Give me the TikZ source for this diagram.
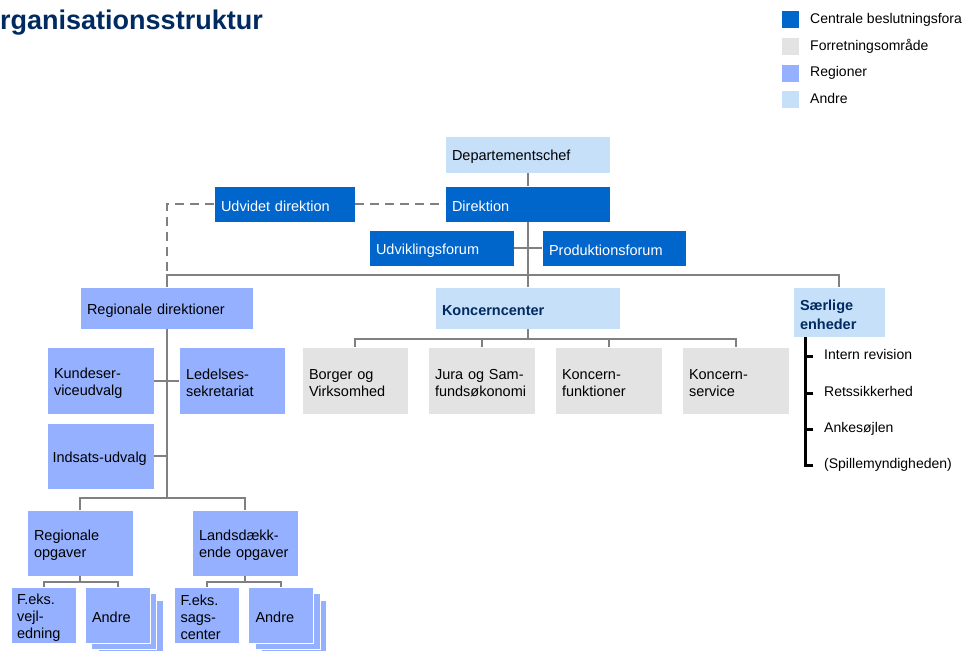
\documentclass[tikz,border=0pt]{standalone}
\usepackage{fontspec}
\setmainfont{Liberation Sans}
\usetikzlibrary{positioning}
\definecolor{centralblue}{RGB}{0,102,204}
\definecolor{forrgray}{RGB}{227,227,227}
\definecolor{regionblue}{RGB}{148,176,255}
\definecolor{andreblue}{RGB}{198,224,250}
\definecolor{navy}{RGB}{0,42,96}
\definecolor{conngray}{RGB}{128,128,128}
\tikzset{
  box/.style={rectangle, draw=white, line width=0.8pt, inner xsep=7pt, inner ysep=0pt,
    outer sep=0pt, align=left, font=\fontsize{14.5}{17}\selectfont,
    execute at begin node={\rule{0pt}{15.5pt}}},
  central/.style={box, fill=centralblue, text=white},
  forr/.style={box, fill=forrgray, text=black},
  region/.style={box, fill=regionblue, text=black},
  andre/.style={box, fill=andreblue, text=black},
  stack/.style={region, minimum width=65pt, minimum height=56pt},
  conn/.style={draw=conngray, line width=2pt},
  dashconn/.style={conn, dash pattern=on 9pt off 6pt},
  listline/.style={draw=black, line width=3pt},
  listitem/.style={anchor=west, inner sep=0pt, font=\fontsize{14}{17}\selectfont, text height=10pt, text depth=3pt},
  legsq/.style={rectangle, minimum size=17pt, inner sep=0pt, outer sep=0pt},
  legtext/.style={inner sep=0pt, font=\fontsize{14}{17}\selectfont, text height=10pt, text depth=3pt},
  titletext/.style={inner sep=0pt, text=navy, font=\fontsize{27}{30}\selectfont\bfseries},
}
\begin{document}
\begin{tikzpicture}[x=1pt,y=-1pt]
  \useasboundingbox (0,0) rectangle (968,650);
  % 标题
  \node[titletext, anchor=base west] (title) at (-21,30) {Organisationsstruktur};
  % 图例
  \foreach \i/\c/\txt in {1/centralblue/Centrale beslutningsfora, 2/forrgray/Forretningsområde,
      3/regionblue/Regioner, 4/andreblue/Andre} {
    \pgfmathsetmacro\yy{20+(\i-1)*26.6}
    \node[legsq, fill=\c] (leg\i) at (790.5,\yy) {};
    \node[legtext, right=11pt of leg\i] (legtxt\i) {\txt};
  }
  % 顶层
  \node[andre, text width=151pt, minimum height=37pt] (depchef) at (527.5,154.5) {Departementschef};
  \node[central, text width=151pt, minimum height=36pt] (direktion) at (527.5,204) {Direktion};
  \node[central, text width=127pt, minimum height=36pt] (udvidet) at (284.5,204) {Udvidet direktion};
  \node[central, text width=131pt, minimum height=36pt] (udvforum) at (441.5,248) {Udviklingsforum};
  \node[central, text width=130pt, minimum height=36pt] (prodforum) at (614,248) {Produktionsforum};
  % 第二层
  \node[region, text width=159pt, minimum height=42pt] (regdir) at (166.5,308) {Regionale direktioner};
  \node[andre, text width=171pt, minimum height=42pt, text=navy, font=\fontsize{14.5}{17}\selectfont\bfseries]
    (koncern) at (527.5,308) {Koncerncenter};
  \node[andre, text width=78pt, minimum height=50pt, text=navy, font=\fontsize{14.5}{19}\selectfont\bfseries]
    (saerlige) at (839,312) {Særlige\\enheder};
  % koncerncenter 下面
  \node[forr, text width=92pt, minimum height=67pt] (borger) at (355,380.5) {Borger og\\Virksomhed};
  \node[forr, text width=93pt, minimum height=67pt] (jura) at (481.5,380.5) {Jura og Sam-\\fundsøkonomi};
  \node[forr, text width=93pt, minimum height=67pt] (kfunk) at (608.5,380.5) {Koncern-\\funktioner};
  \node[forr, text width=93pt, minimum height=67pt] (kserv) at (735.5,380.5) {Koncern-\\service};
  % regioner
  \node[region, text width=93pt, minimum height=67pt] (kunde) at (100.5,380.5) {Kundeser-\\viceudvalg};
  \node[region, text width=92pt, minimum height=67pt] (ledelse) at (232,380.5) {Ledelses-\\sekretariat};
  \node[region, text width=96pt, minimum height=66pt, inner xsep=5.5pt] (indsats) at (100.5,456) {Indsats-udvalg};
  \node[region, text width=92pt, minimum height=66pt] (regopg) at (80,543) {Regionale\\opgaver};
  \node[region, text width=92pt, minimum height=66pt] (landopg) at (245,543) {Landsdækk-\\ende opgaver};
  \node[region, text width=53pt, minimum height=56pt, inner xsep=6pt] (vejl) at (43.5,615) {F.eks.\\vejl-\\edning};
  \node[region, text width=53pt, minimum height=56pt, inner xsep=6pt] (sags) at (207,615) {F.eks.\\sags-\\center};
  % Andre 的叠层
  \foreach \dx in {13,6.5} {
    \node[stack] at (117.5+\dx,615+\dx) {};
    \node[stack] at (281+\dx,615+\dx) {};
  }
  \node[region, text width=51pt, minimum height=56pt] (andre1) at (117.5,615) {Andre};
  \node[region, text width=51pt, minimum height=56pt] (andre2) at (281,615) {Andre};
  % 连线
  \coordinate (mainbus) at (527.5,275);
  \coordinate (kbus) at (527.5,339);
  \coordinate (regbus) at (166.5,498);
  \coordinate (rbus) at (80,582);
  \coordinate (lbus) at (245,582);
  \draw[conn] (depchef.south) -- (direktion.north);
  \draw[conn] (direktion.south) -- (mainbus);
  \draw[conn] (udvforum.east) -- (prodforum.west);
  \draw[conn] (regdir.north) |- (mainbus) -| (saerlige.north);
  \draw[conn] (koncern.north) -- (mainbus);
  \draw[dashconn] (udvidet.east) -- (direktion.west);
  \draw[dashconn] (udvidet.west) -| (regdir.north |- mainbus);
  \draw[conn] (koncern.south) -- (kbus);
  \draw[conn] (borger.north) |- (kbus) -| (kserv.north);
  \draw[conn] (jura.north) -- (jura.north |- kbus);
  \draw[conn] (kfunk.north) -- (kfunk.north |- kbus);
  \draw[conn] (regdir.south) -- (regbus);
  \draw[conn] (kunde.east) -- (kunde.east -| regbus);
  \draw[conn] (ledelse.west) -- (ledelse.west -| regbus);
  \draw[conn] (indsats.east) -- (indsats.east -| regbus);
  \draw[conn] (regopg.north) |- (regbus) -| (landopg.north);
  \draw[conn] (regopg.south) -- (rbus);
  \draw[conn] (vejl.north) |- (rbus) -| (andre1.north);
  \draw[conn] (landopg.south) -- (lbus);
  \draw[conn] (sags.north) |- (lbus) -| (andre2.north);
  % Særlige enheder 的列表
  \foreach \i/\yy/\txt in {1/356/Intern revision, 2/393/Retssikkerhed, 3/429/Ankesøjlen,
      4/465/{(Spillemyndigheden)}} {
    \node[listitem] (item\i) at (824,\yy) {\txt};
    \coordinate (tick\i) at (813,\yy);
  }
  \coordinate (ltop) at (805,337);
  \draw[listline] (ltop) |- (tick4);
  \foreach \i in {1,2,3}
    \draw[listline] (tick\i -| ltop) -- (tick\i);
\end{tikzpicture}
\end{document}
